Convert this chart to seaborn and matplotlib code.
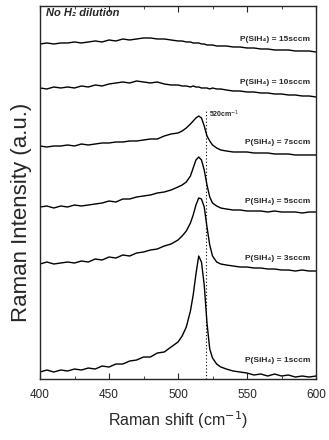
import pandas as pd
import matplotlib
matplotlib.use("Agg")
import matplotlib.pyplot as plt
from matplotlib.ticker import MultipleLocator
import seaborn as sns

# Raman shift grid (cm-1), finer near the c-Si peak
shift = [400, 405, 410, 415, 420, 425, 430, 435, 440, 445, 450, 455, 460, 465, 470,
         475, 480, 485, 490, 495, 500, 503, 506, 509, 511, 513, 515, 517, 519, 521,
         523, 525, 528, 531, 535, 540, 545, 550, 555, 560, 565, 570, 575, 580, 585,
         590, 595, 600]

# stacked spectra (offset intensity, a.u.)
sccm_1 = [7, 9, 7, 9, 8, 10, 9, 11, 10, 13, 12, 15, 15, 18, 19, 22, 22, 26, 27, 32, 37,
          43, 52, 68, 84, 105, 123, 117, 94, 56, 30, 21, 15, 12, 10,
          8, 7, 6, 4, 5, 3, 5, 3, 4, 2, 3, 2, 3]
sccm_3 = [115, 117, 115, 116, 117, 116, 118, 117, 120, 119, 122, 121, 124, 123, 126, 127,
          129, 130, 133, 135, 139, 143, 148, 156, 164, 174, 181, 180, 172, 152, 134, 123,
          117, 115, 114, 113, 112, 112, 111, 111, 110, 110, 109, 109, 108, 109, 108, 108]
sccm_5 = [172, 173, 171, 173, 172, 174, 173, 174, 175, 176, 178, 177, 180, 180, 182, 183,
          184, 186, 187, 189, 192, 194, 197, 203, 211, 219, 222, 219, 209, 194, 182, 176,
          173, 171, 170, 169, 169, 168, 168, 168, 167, 168, 167, 167, 167, 166, 167, 167]
sccm_7 = [233, 232, 233, 233, 234, 233, 235, 234, 235, 236, 236, 237, 237, 238, 238, 239,
          240, 240, 243, 245, 246, 248, 251, 255, 258, 261, 263, 261, 253, 243, 238, 234,
          231, 229, 228, 227, 227, 227, 226, 226, 226, 225, 225, 225, 224, 224, 224, 224]
sccm_10 = [291, 290, 292, 291, 292, 291, 293, 292, 294, 293, 295, 296, 297, 296, 298, 297,
           296, 297, 295, 294, 294, 293, 293, 292, 293, 292, 292, 291, 291, 291, 290, 291,
           290, 290, 289, 288, 288, 287, 287, 286, 286, 285, 285, 284, 284, 283, 283, 282]
sccm_15 = [335, 336, 335, 336, 336, 337, 336, 337, 338, 337, 339, 338, 340, 339, 340, 341,
           341, 340, 340, 339, 338, 338, 337, 337, 336, 336, 336, 335, 335, 334, 334, 334,
           333, 333, 333, 332, 332, 331, 331, 330, 330, 329, 329, 329, 328, 328, 328, 327]

flows = ["1sccm", "3sccm", "5sccm", "7sccm", "10sccm", "15sccm"]
spectra = [sccm_1, sccm_3, sccm_5, sccm_7, sccm_10, sccm_15]
label_y = [19, 121, 178, 236, 296, 339]

rows = []
for flow, vals in zip(flows, spectra):
    for s, v in zip(shift, vals):
        rows.append({"shift": s, "intensity": v, "flow": flow})
df = pd.DataFrame(rows)

sns.set_style("ticks")
plt.rcParams["font.family"] = ["Liberation Sans", "DejaVu Sans"]

fig = plt.figure(figsize=(3.29, 4.40), dpi=100)
ax = fig.add_axes([0.1216, 0.1386, 0.8389, 0.8478])

sns.lineplot(data=df, x="shift", y="intensity", hue="flow", units="flow",
             estimator=None, palette=["black"] * 6, linewidth=1.0,
             legend=False, ax=ax)

# reference line at 520 cm-1
ax.plot([520, 520], [0, 268], color="black", linestyle=(0, (1, 2)), linewidth=0.8)
ax.text(522.5, 265, "520cm$^{-1}$", fontsize=5, fontweight="bold", va="center")

for flow, y in zip(flows, label_y):
    ax.text(596, y, "P(SiH₄) = " + flow, fontsize=6, fontweight="bold",
            ha="right", va="center")

ax.text(404, 366, "No H₂ dilution", fontsize=8, fontweight="bold",
        fontstyle="italic", va="center")

ax.set_xlim(400, 600)
ax.set_ylim(0, 373)
ax.xaxis.set_major_locator(MultipleLocator(50))
ax.xaxis.set_minor_locator(MultipleLocator(25))
ax.tick_params(axis="x", which="both", direction="in", top=True, labelsize=8.5, pad=7)
ax.tick_params(axis="x", which="major", length=4)
ax.tick_params(axis="x", which="minor", length=2)
ax.set_yticks([])
for sp in ax.spines.values():
    sp.set_linewidth(1.0)

ax.set_xlabel("Raman shift (cm$^{-1}$)", fontsize=11.5, labelpad=6)
ax.set_ylabel("Raman Intensity (a.u.)", fontsize=16)
ax.yaxis.set_label_coords(-0.03, 0.448)

fig.savefig("out.png", dpi=100)
